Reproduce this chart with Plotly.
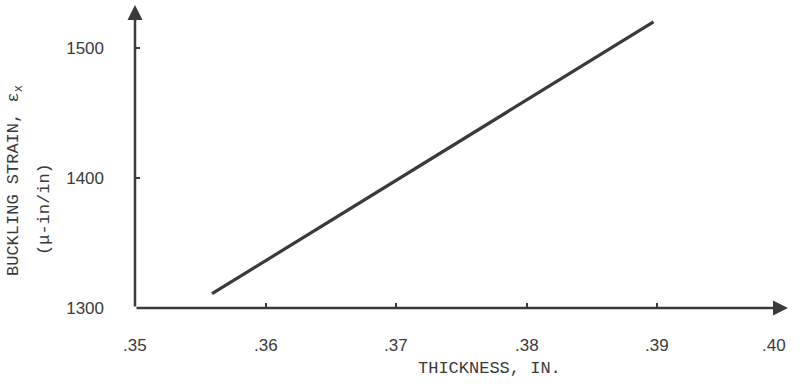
import plotly.graph_objects as go

# Data
thickness = [0.3559, 0.3897]
strain = [1311, 1520]

x_tickvals = [0.35, 0.36, 0.37, 0.38, 0.39, 0.40]
x_ticktext = [".35", ".36", ".37", ".38", ".39", ".40"]
y_tickvals = [1300, 1400, 1500]
y_ticktext = ["1300", "1400", "1500"]

ink = "#3a3a3a"
mono = "Liberation Mono, DejaVu Sans Mono, monospace"
sans = "Liberation Sans, Arial, sans-serif"

W, H = 809, 384
L, R, T, B = 135, 21, 5, 76
PW, PH = W - L - R, H - T - B


def px(x):
    return (x - L) / PW


def py(y):
    return (H - B - y) / PH


X0, X1 = 0.35, 0.40
Y0, Y1 = 1300, 1533

fig = go.Figure()
fig.add_trace(go.Scatter(x=thickness, y=strain, mode="lines",
                         line=dict(color=ink, width=3.2), showlegend=False,
                         hoverinfo="skip"))

fig.update_layout(
    width=W, height=H,
    margin=dict(l=L, r=R, t=T, b=B, autoexpand=False),
    paper_bgcolor="white", plot_bgcolor="white",
    xaxis=dict(range=[X0, X1], tickvals=x_tickvals, showticklabels=False,
               showgrid=False, zeroline=False, showline=False,
               ticks="inside", ticklen=5, tickwidth=2, tickcolor=ink,
               automargin=False, fixedrange=True),
    yaxis=dict(range=[Y0, Y1], tickvals=y_tickvals, ticktext=y_ticktext,
               showgrid=False, zeroline=False, showline=False,
               ticks="inside", ticklen=5, tickwidth=2, tickcolor=ink,
               ticklabelstandoff=30, automargin=False, fixedrange=True,
               tickfont=dict(family=sans, size=17, color=ink)),
)

# axes with arrowheads
fig.add_annotation(x=X1, y=Y0, ax=X0, ay=Y0, xref="x", yref="y", axref="x", ayref="y",
                   showarrow=True, arrowhead=2, arrowsize=1.2, arrowwidth=2.5,
                   arrowcolor=ink, text="")
fig.add_annotation(x=X0, y=Y1, ax=X0, ay=Y0, xref="x", yref="y", axref="x", ayref="y",
                   showarrow=True, arrowhead=2, arrowsize=1.2, arrowwidth=2.5,
                   arrowcolor=ink, text="")

# x tick labels (last one kept inside the page, as in the original)
for i, (v, t) in enumerate(zip(x_tickvals, x_ticktext)):
    last = i == len(x_tickvals) - 1
    fig.add_annotation(x=v, y=py(345), xref="x", yref="paper", text=t,
                       showarrow=False, xanchor="right" if last else "center",
                       yanchor="middle",
                       font=dict(family=sans, size=17, color=ink))

# titles
fig.add_annotation(text="THICKNESS, IN.", xref="paper", yref="paper",
                   x=px(489), y=py(369),
                   showarrow=False, font=dict(family=mono, size=17, color=ink),
                   xanchor="center", yanchor="middle")
fig.add_annotation(text="BUCKLING STRAIN, ε<sub>x</sub>", xref="paper", yref="paper",
                   x=px(15), y=py(181),
                   textangle=-90, showarrow=False,
                   font=dict(family=mono, size=17, color=ink),
                   xanchor="center", yanchor="middle")
fig.add_annotation(text="(μ-in/in)", xref="paper", yref="paper",
                   x=px(45), y=py(209),
                   textangle=-90, showarrow=False,
                   font=dict(family=mono, size=17, color=ink),
                   xanchor="center", yanchor="middle")

fig.write_html("out.html", config={"displayModeBar": False},
               post_script="document.body.style.margin='0';document.body.style.overflow='hidden';")
